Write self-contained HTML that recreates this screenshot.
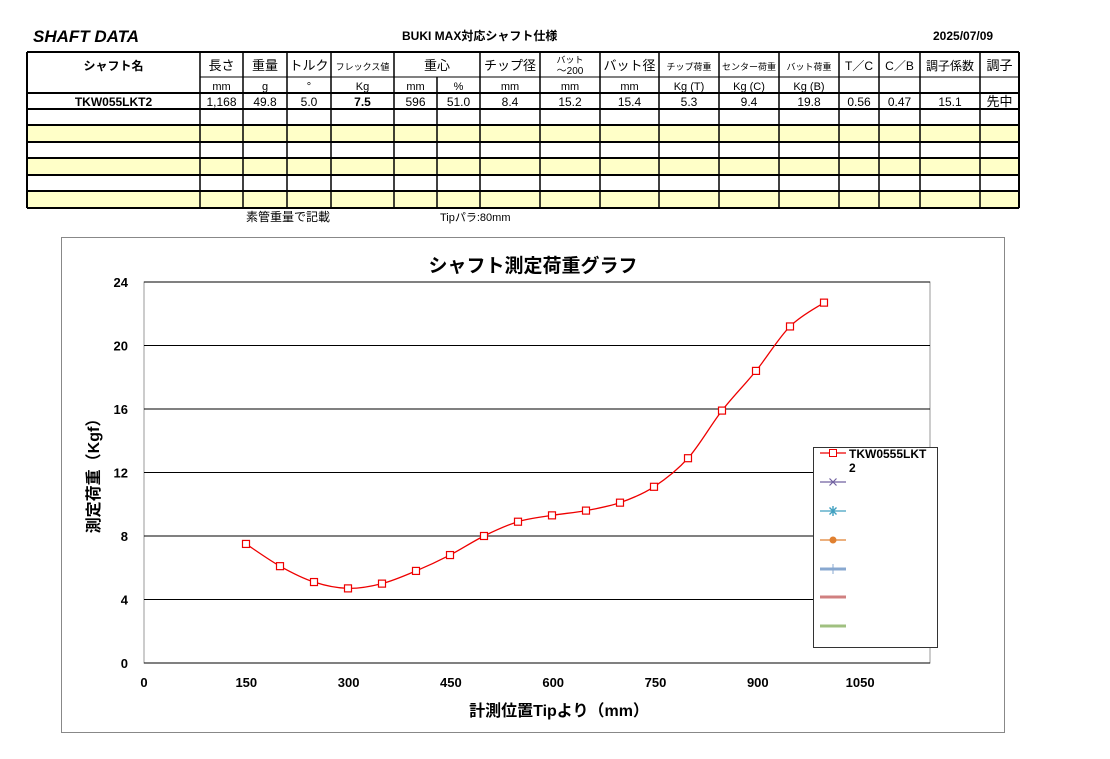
<!DOCTYPE html>
<html><head><meta charset="utf-8"><style>
body{margin:0;background:#fff;width:1110px;height:759px;overflow:hidden}
svg{display:block;font-family:"Liberation Sans","Noto Sans CJK JP",sans-serif}
</style></head><body>
<svg id="s" width="1110" height="759" viewBox="0 0 1110 759">
<text x="33" y="42" font-size="17" font-style="italic" font-weight="bold">SHAFT DATA</text>
<text x="402" y="40" font-size="12" font-weight="bold">BUKI MAX対応シャフト仕様</text>
<text x="933" y="40" font-size="12" font-weight="bold">2025/07/09</text>
<g id="tbl"></g>
<text x="246" y="221" font-size="12">素管重量で記載</text>
<text x="440" y="221" font-size="11">Tipパラ:80mm</text>
<rect x="61.5" y="237.5" width="943" height="495" fill="none" stroke="#888"/>
<text x="533" y="272" font-size="19" font-weight="bold" text-anchor="middle">シャフト測定荷重グラフ</text>
<g id="chart"></g>
<text x="559" y="716" font-size="16" font-weight="bold" text-anchor="middle">計測位置Tipより（mm）</text>
<text transform="translate(99,472) rotate(-90)" font-size="16" font-weight="bold" text-anchor="middle">測定荷重（Kgf）</text>
</svg>
<script>
const NS="http://www.w3.org/2000/svg";
function el(p,t,a,txt){const e=document.createElementNS(NS,t);for(const k in a)e.setAttribute(k,a[k]);if(txt!==undefined)e.textContent=txt;p.appendChild(e);return e;}
const T=document.getElementById('tbl');
const cx=[27,200,243,287,331,394,437,480,540,600,659,719,779,839,879,920,980,1019];
const ry=[52,77,93,109,125,142,158,175,191,208];
[4,6,8].forEach(i=>el(T,'rect',{x:27,y:ry[i],width:992,height:ry[i+1]-ry[i],fill:'#ffffc8'}));
ry.forEach((y,i)=>{ if(i==1){el(T,'line',{x1:200,x2:1019,y1:y,y2:y,stroke:'#000','stroke-width':1});} else el(T,'line',{x1:27,x2:1019,y1:y,y2:y,stroke:'#000','stroke-width':2});});
cx.forEach((x,i)=>{ if(i==6)el(T,'line',{x1:x,x2:x,y1:77,y2:208,stroke:'#000','stroke-width':1.5}); else el(T,'line',{x1:x,x2:x,y1:52,y2:208,stroke:'#000','stroke-width':(i==0||i==17)?2:1.5});});
function c(i,j){return (cx[i]+cx[j])/2;}
const h=[[0,1,'シャフト名',12,'bold',70],[1,2,'長さ',13],[2,3,'重量',13],[3,4,'トルク',13],[4,5,'フレックス値',9],[5,7,'重心',13],[7,8,'チップ径',13],[9,10,'バット径',13],[10,11,'チップ荷重',9],[11,12,'センター荷重',9],[12,13,'バット荷重',9],[13,14,'T／C',12],[14,15,'C／B',12],[15,16,'調子係数',12],[16,17,'調子',13]];
h.forEach(a=>el(T,'text',{x:c(a[0],a[1]),y:a[5]||70,'font-size':a[3],'font-weight':a[4]||'normal','text-anchor':'middle'},a[2]));
el(T,'text',{x:c(8,9),y:63,'font-size':9,'text-anchor':'middle'},'バット');
el(T,'text',{x:c(8,9),y:74,'font-size':10,'text-anchor':'middle'},'～200');
const u=['', 'mm','g','°','Kg','mm','%','mm','mm','mm','Kg (T)','Kg (C)','Kg (B)','','','',''];
u.forEach((t,i)=>{if(t)el(T,'text',{x:c(i,i+1),y:90,'font-size':11,'text-anchor':'middle'},t)});
const d=['TKW055LKT2','1,168','49.8','5.0','7.5','596','51.0','8.4','15.2','15.4','5.3','9.4','19.8','0.56','0.47','15.1','先中'];
d.forEach((t,i)=>el(T,'text',{x:c(i,i+1),y:106,'font-size':(i==16?13:12),'font-weight':(i==0||i==4)?'bold':'normal','text-anchor':'middle'},t));
const C=document.getElementById('chart');
const X=v=>144+v*0.68, Y=v=>663-v*15.875;
el(C,'rect',{x:144,y:282,width:786,height:381,fill:'none',stroke:'#999'});
for(let v=4;v<=24;v+=4)el(C,'line',{x1:144,x2:930,y1:Y(v),y2:Y(v),stroke:'#000','stroke-width':1});
el(C,'line',{x1:144,x2:930,y1:663,y2:663,stroke:'#000'});
for(let v=0;v<=24;v+=4)el(C,'text',{x:128,y:Y(v)+5,'font-size':13,'font-weight':'bold','text-anchor':'end'},v);
[0,150,300,450,600,750,900,1050].forEach(v=>el(C,'text',{x:144+v*0.682,y:687,'font-size':13,'font-weight':'bold','text-anchor':'middle'},v));
const pts=[[150,7.5],[200,6.1],[250,5.1],[300,4.7],[350,5.0],[400,5.8],[450,6.8],[500,8.0],[550,8.9],[600,9.3],[650,9.6],[700,10.1],[750,11.1],[800,12.9],[850,15.9],[900,18.4],[950,21.2],[1000,22.7]].map(p=>[X(p[0]),Y(p[1])]);
let dp='M'+pts[0];
for(let i=0;i<pts.length-1;i++){const p0=pts[i-1]||pts[i],p1=pts[i],p2=pts[i+1],p3=pts[i+2]||p2;
const a=[p1[0]+(p2[0]-p0[0])/6,p1[1]+(p2[1]-p0[1])/6],b=[p2[0]-(p3[0]-p1[0])/6,p2[1]-(p3[1]-p1[1])/6];
dp+=` C${a} ${b} ${p2}`;}
el(C,'path',{d:dp,fill:'none',stroke:'#e00','stroke-width':1.3});
pts.forEach(p=>el(C,'rect',{x:p[0]-3.5,y:p[1]-3.5,width:7,height:7,fill:'#fff',stroke:'#e00','stroke-width':1.2}));
el(C,'rect',{x:813.5,y:447.5,width:124,height:200,fill:'#fff',stroke:'#333'});
const ly=[453,482,511,540,569,597,626],lc=['#e00','#7060a0','#40a0c0','#e08030','#88a8d0','#d08080','#a0c080'];
ly.forEach((y,i)=>el(C,'line',{x1:820,x2:846,y1:y,y2:y,stroke:lc[i],'stroke-width':i>3?3:1.3}));
el(C,'rect',{x:829.5,y:449.5,width:7,height:7,fill:'#fff',stroke:'#e00'});
el(C,'path',{d:'M829.5 478.5 l7 7 M836.5 478.5 l-7 7',stroke:lc[1],'stroke-width':1.2});
el(C,'path',{d:'M829.5 507.5 l7 7 M836.5 507.5 l-7 7 M833 506 v10',stroke:lc[2],'stroke-width':1.4});
el(C,'circle',{cx:833,cy:540,r:3.5,fill:lc[3]});
el(C,'line',{x1:833,x2:833,y1:564,y2:574,stroke:lc[4]});
el(C,'text',{x:849,y:458,'font-size':12,'font-weight':'bold'},'TKW0555LKT');
el(C,'text',{x:849,y:472,'font-size':12,'font-weight':'bold'},'2');
</script>
</body></html>
